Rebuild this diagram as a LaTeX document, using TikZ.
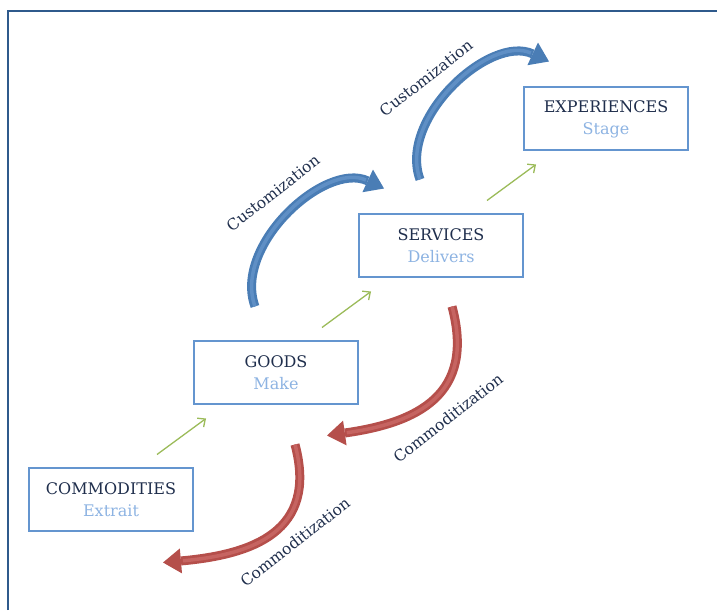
\documentclass[tikz,border=0pt]{standalone}
\usepackage{fontspec}
\setmainfont{DejaVu Serif}
\usepackage{tikz}
\usetikzlibrary{arrows.meta,positioning}

\definecolor{frameblue}{HTML}{2F5A8C}
\definecolor{boxblue}{HTML}{6495CF}
\definecolor{titleblue}{HTML}{1F2E4C}
\definecolor{subblue}{HTML}{8DB3E2}
\definecolor{custblue}{HTML}{4A7DB5}
\definecolor{custlight}{HTML}{5F8FC5}
\definecolor{comred}{HTML}{B54F4B}
\definecolor{comlight}{HTML}{C66461}
\definecolor{flowgreen}{HTML}{9BBB59}

\newcommand{\stagesub}[1]{{\color{subblue}#1}}

\tikzset{
  stage/.style={draw=boxblue, line width=2pt, minimum width=164pt, minimum height=63pt,
    inner sep=0pt, align=center, text=titleblue, font=\fontsize{16}{22}\selectfont},
  flow/.style={draw=flowgreen, line width=1.3pt, -{Straight Barb[length=6pt,width=11pt]}},
  cust/.style={draw=custblue, line width=9pt, -{Triangle[width=25pt,length=18pt,line width=0pt]},
    postaction={draw=custlight, line width=3.5pt, -, shorten >=20pt}},
  comm/.style={draw=comred, line width=9pt, -{Triangle[width=25pt,length=18pt,line width=0pt]},
    postaction={draw=comlight, line width=3.5pt, -, shorten >=20pt}},
  lbl/.style={text=titleblue, font=\fontsize{15.5}{20}\selectfont, rotate=38}
}

\begin{document}
\begin{tikzpicture}[x=1pt,y=1pt]
  \useasboundingbox (0,0) rectangle (717,610);
  % frame: only the top and left edges are on the page
  \draw[frameblue, line width=2pt] (7.5,0) -- (7.5,599) -- (717,599);

  \node[stage] (b1) at (111,110) {COMMODITIES\\\stagesub{Extrait}};
  \node[stage] (b2) [above right=62pt and -1pt of b1] {GOODS\\\stagesub{Make}};
  \node[stage] (b3) [above right=62pt and -1pt of b2] {SERVICES\\\stagesub{Delivers}};
  \node[stage] (b4) [above right=62pt and -1pt of b3] {EXPERIENCES\\\stagesub{Stage}};

  \draw (273,417) node[lbl] (c1) {Customization};
  \draw (426,532) node[lbl] (c2) {Customization};
  \draw (448,192) node[lbl] (d1) {Commoditization};
  \draw (295,68) node[lbl] (d2) {Commoditization};

  % step up
  \draw[flow] ([shift={(-37pt,13pt)}]b1.north east) -- ([shift={(13pt,-13pt)}]b2.south west);
  \draw[flow] ([shift={(-37pt,13pt)}]b2.north east) -- ([shift={(13pt,-13pt)}]b3.south west);
  \draw[flow] ([shift={(-37pt,13pt)}]b3.north east) -- ([shift={(13pt,-13pt)}]b4.south west);

  \draw[cust] ([shift={(62pt,34pt)}]b2.north west) to[out=110,in=155,looseness=0.95] ([shift={(26pt,25pt)}]b3.north west);
  \draw[cust] ([shift={(62pt,34pt)}]b3.north west) to[out=110,in=155,looseness=0.95] ([shift={(26pt,25pt)}]b4.north west);

  \draw[comm] ([shift={(93pt,34pt)}]b2.north east) to[out=-75,in=8,looseness=1.3] ([shift={(-32pt,-30pt)}]b2.south east);
  \draw[comm] ([shift={(101pt,23pt)}]b1.north east) to[out=-75,in=5,looseness=1.3] ([shift={(-31pt,-30pt)}]b1.south east);
\end{tikzpicture}
\end{document}
